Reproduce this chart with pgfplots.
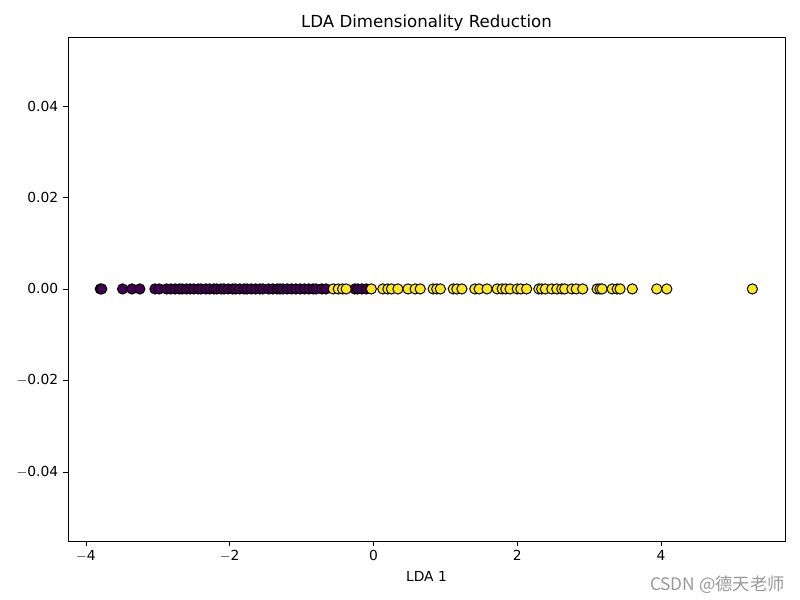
\documentclass[border=0pt]{standalone}
\usepackage{pgfplots}
\pgfplotsset{compat=1.18}
\usepackage{fontspec}
\setmainfont{DejaVu Sans}
\newfontfamily\cjk{Noto Sans CJK SC}
\definecolor{vpurple}{HTML}{440154}
\definecolor{vyellow}{HTML}{FDE725}
\begin{document}
\begin{tikzpicture}
\useasboundingbox (-49.1pt,-42.6pt) rectangle (529pt,390.9pt);
\begin{axis}[
  at={(0,0)}, anchor=south west,
  scale only axis, width=518.2pt, height=364.2pt,
  xmin=-4.25, xmax=5.725, ymin=-0.0551, ymax=0.0551,
  xtick={-4,-2,0,2,4}, ytick={-0.04,-0.02,0,0.02,0.04},
  yticklabels={$-$0.04,$-$0.02,0.00,0.02,0.04},
  xticklabels={$-$4,$-$2,0,2,4},
  tick align=outside, tick style={black, thin},
  major tick length=3.5pt,
  xtick pos=bottom, ytick pos=left,
  scaled y ticks=false,
  tick label style={font=\fontsize{10}{12}\selectfont},
  title={LDA Dimensionality Reduction},
  title style={font=\fontsize{12}{14}\selectfont, yshift=-5.5pt},
  xlabel={LDA 1},
  xlabel style={font=\fontsize{10}{12}\selectfont},
  axis line style={black, line width=0.6pt},
  clip=false,
]
\addplot[only marks, mark=*, mark size=3.7pt, mark options={fill=vpurple, draw=black, line width=0.7pt}] coordinates {
(-3.80,0) (-3.78,0) (-3.49,0) (-3.36,0) (-3.25,0) (-3.04,0) (-2.98,0) (-2.88,0) (-2.82,0) (-2.76,0)
(-2.70,0) (-2.66,0) (-2.60,0) (-2.55,0) (-2.50,0) (-2.44,0) (-2.40,0) (-2.33,0) (-2.28,0) (-2.22,0)
(-2.18,0) (-2.12,0) (-2.08,0) (-2.02,0) (-1.96,0) (-1.92,0) (-1.86,0) (-1.80,0) (-1.76,0) (-1.70,0)
(-1.64,0) (-1.58,0) (-1.54,0) (-1.46,0) (-1.40,0) (-1.34,0) (-1.30,0) (-1.26,0) (-1.20,0) (-1.14,0)
(-1.08,0) (-1.02,0) (-0.96,0) (-0.90,0) (-0.84,0) (-0.80,0) (-0.72,0) (-0.66,0)
(-0.26,0) (-0.22,0) (-0.16,0) (-0.10,0)
};
\addplot[only marks, mark=*, mark size=3.7pt, mark options={fill=vyellow, draw=black, line width=0.7pt}] coordinates {
(-0.56,0) (-0.49,0) (-0.43,0) (-0.38,0) (-0.03,0) (0.13,0) (0.20,0) (0.25,0) (0.34,0) (0.48,0)
(0.58,0) (0.65,0) (0.83,0) (0.88,0) (0.93,0) (1.11,0) (1.16,0) (1.23,0) (1.41,0) (1.47,0)
(1.58,0) (1.72,0) (1.79,0) (1.84,0) (1.90,0) (2.00,0) (2.05,0) (2.13,0) (2.30,0) (2.34,0)
(2.39,0) (2.48,0) (2.55,0) (2.62,0) (2.66,0) (2.76,0) (2.82,0) (2.91,0) (3.11,0) (3.15,0)
(3.18,0) (3.32,0) (3.39,0) (3.43,0) (3.60,0) (3.94,0) (4.08,0) (5.27,0)
};
\end{axis}
\node[anchor=base east, text=black!40, font=\cjk\fontsize{12.5}{14}\selectfont] at (521.5pt,-35.5pt) {CSDN @德天老师};
\end{tikzpicture}
\end{document}
